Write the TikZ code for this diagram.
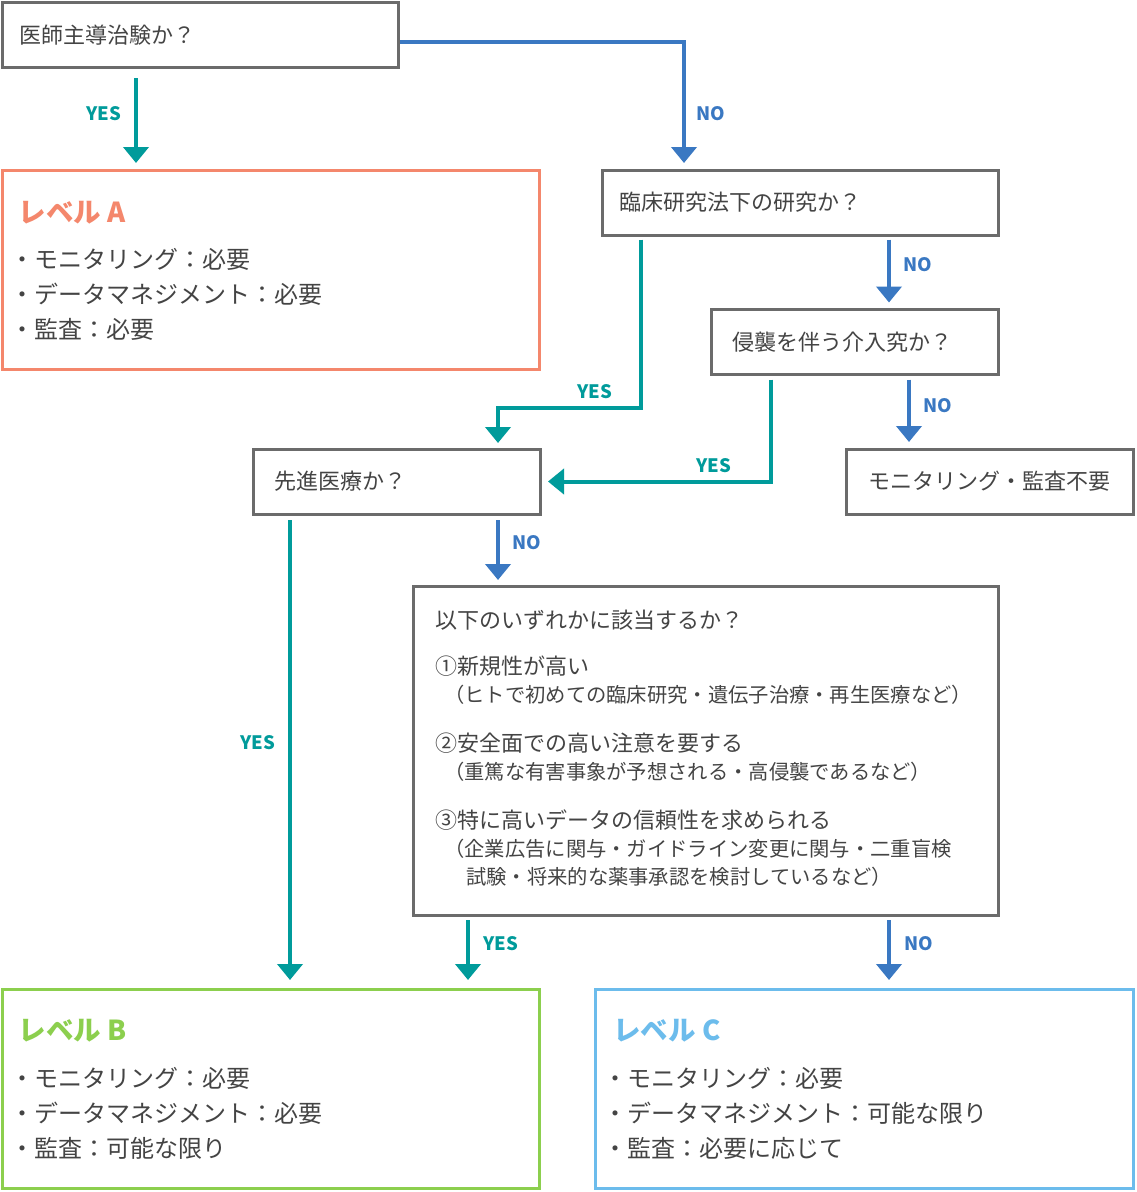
\documentclass[tikz,border=0pt]{standalone}
\usepackage{fontspec}
\setmainfont{Noto Sans CJK JP}
\usetikzlibrary{arrows.meta,calc}
\definecolor{bx}{HTML}{6B6B6B}
\definecolor{txt}{HTML}{444444}
\definecolor{tealc}{HTML}{009B9B}
\definecolor{bluec}{HTML}{3A78C2}
\definecolor{salmonc}{HTML}{F4876C}
\definecolor{greenc}{HTML}{8CCF4E}
\definecolor{lbluec}{HTML}{6CBCEC}
\newcommand\hdrfont{\fontsize{22pt}{28pt}\selectfont}
\newcommand\subtfont{\fontsize{20.3pt}{28pt}\selectfont}
\newcommand\lstfont{\fontsize{24pt}{35pt}\selectfont}
\newcommand\ttlfont{\fontsize{27.5pt}{30pt}\selectfont\bfseries}
\newcommand\lblfont{\fontsize{18.5pt}{20pt}\selectfont\bfseries}
\begin{document}
\begin{tikzpicture}[x=1pt,y=-1pt,
  qbox/.style={draw=bx,line width=3pt,inner ysep=0pt,minimum height=65pt,
    align=left,text=txt,font=\hdrfont},
  lvlbox/.style={line width=3pt,inner sep=0pt,minimum width=537pt,minimum height=199pt},
  ttl/.style={anchor=base west,inner sep=0pt,font=\ttlfont},
  lst/.style={anchor=base west,inner sep=0pt,font=\lstfont,text=txt,text width=520pt,align=left},
  lbl/.style={inner sep=0pt,font=\lblfont},
  yesarr/.style={draw=tealc,line width=4pt,-{Triangle[width=25pt,length=16pt]}},
  noarr/.style={draw=bluec,line width=4pt,-{Triangle[width=25pt,length=16pt]}}
]
\useasboundingbox (0,0) rectangle (1136,1192);
\fill[white] (0,0) rectangle (1136,1192);

% column coordinates
\coordinate (c136) at (136,0);
\coordinate (c684) at (684,0);
\coordinate (c641) at (641,0);
\coordinate (c889) at (889,0);
\coordinate (c771) at (771,0);
\coordinate (c909) at (909,0);
\coordinate (c290) at (290,0);
\coordinate (c498) at (498,0);
\coordinate (c468) at (468,0);
\coordinate (j1) at (498,408);

% question boxes
\node[qbox,minimum width=396pt,inner xsep=17pt,text width=362pt] (q1) at (200.5,35) {医師主導治験か？};
\node[qbox,minimum width=396pt,inner xsep=17pt,text width=362pt] (q2) at (800,202.5) {臨床研究法下の研究か？};
\node[qbox,minimum width=287pt,inner xsep=21pt,text width=245pt] (q3) at (854.5,342) {侵襲を伴う介入究か？};
\node[qbox,minimum width=287pt,inner xsep=21.5pt,text width=244pt] (q4) at (396.5,481.5) {先進医療か？};
\node[qbox,minimum width=287pt,inner xsep=10pt,text width=267pt,align=center] (none) at (989.5,481.5) {モニタリング・監査不要};

% big box
\node[draw=bx,line width=3pt,inner sep=0pt,minimum width=585pt,minimum height=329pt] (big) at (705.5,750.5) {};
\node[anchor=base west,inner sep=0pt,text=txt,font=\hdrfont,text width=560pt,align=left] (bigtext) at (435,628.4) {%
以下のいずれかに該当するか？\\[18pt]
①新規性が高い\\
{\subtfont\hspace*{9pt}（ヒトで初めての臨床研究・遺伝子治療・再生医療など）}\\[21pt]
②安全面での高い注意を要する\\
{\subtfont\hspace*{9pt}（重篤な有害事象が予想される・高侵襲であるなど）}\\[21pt]
③特に高いデータの信頼性を求められる\\
{\subtfont\hspace*{9pt}（企業広告に関与・ガイドライン変更に関与・二重盲検}\\
{\subtfont\hspace*{31pt}試験・将来的な薬事承認を検討しているなど）}};

% level boxes
\node[lvlbox,draw=salmonc] (levelA) at (271,269.5) {};
\node[ttl,text=salmonc] (levelAt) at (18.5,222) {レベル A};
\node[lst] (levelAl) at (10,268) {・モニタリング：必要\\・データマネジメント：必要\\・監査：必要};

\node[lvlbox,draw=greenc] (levelB) at (271,1088.5) {};
\node[ttl,text=greenc] (levelBt) at (18.5,1040.5) {レベル B};
\node[lst] (levelBl) at (10,1087) {・モニタリング：必要\\・データマネジメント：必要\\・監査：可能な限り};

\node[lvlbox,draw=lbluec,minimum width=538pt] (levelC) at (864,1088.5) {};
\node[ttl,text=lbluec] (levelCt) at (613,1040.5) {レベル C};
\node[lst] (levelCl) at (603,1087) {・モニタリング：必要\\・データマネジメント：可能な限り\\・監査：必要に応じて};

% connectors
\draw[yesarr,shorten <=9pt,shorten >=5.5pt] (q1.south -| c136) -- (levelA.north -| c136);
\draw[noarr,shorten >=5.5pt] ([yshift=-7pt]q1.east) -| (q2.north -| c684);
\draw[yesarr,shorten <=3pt,shorten >=4.5pt] (q2.south -| c641) |- (j1) -- (q4.north -| j1);
\draw[noarr,shorten <=3pt,shorten >=5.5pt] (q2.south -| c889) -- (q3.north -| c889);
\draw[yesarr,shorten <=3.5pt,shorten >=6.5pt] (q3.south -| c771) |- (q4.east);
\draw[noarr,shorten <=3.5pt,shorten >=5.5pt] (q3.south -| c909) -- (none.north -| c909);
\draw[yesarr,shorten <=4.5pt,shorten >=7.5pt] (q4.south -| c290) -- (levelB.north -| c290);
\draw[noarr,shorten <=4.5pt,shorten >=4.5pt] (q4.south -| c498) -- (big.north -| c498);
\draw[yesarr,shorten <=3.5pt,shorten >=7.5pt] (big.south -| c468) -- (levelB.north -| c468);
\draw[noarr,shorten <=3.5pt,shorten >=7.5pt] (big.south -| c889) -- (levelC.north -| c889);

% labels
\node[lbl,text=tealc] (y1) at (104,114) {YES};
\node[lbl,text=bluec] (n1) at (711,114) {NO};
\node[lbl,text=bluec] (n2) at (918,265) {NO};
\node[lbl,text=tealc] (y2) at (595,392) {YES};
\node[lbl,text=bluec] (n3) at (938,406) {NO};
\node[lbl,text=tealc] (y3) at (714,466) {YES};
\node[lbl,text=bluec] (n4) at (527,543) {NO};
\node[lbl,text=tealc] (y4) at (258,743) {YES};
\node[lbl,text=tealc] (y5) at (501,944) {YES};
\node[lbl,text=bluec] (n5) at (919,944) {NO};
\end{tikzpicture}
\end{document}
